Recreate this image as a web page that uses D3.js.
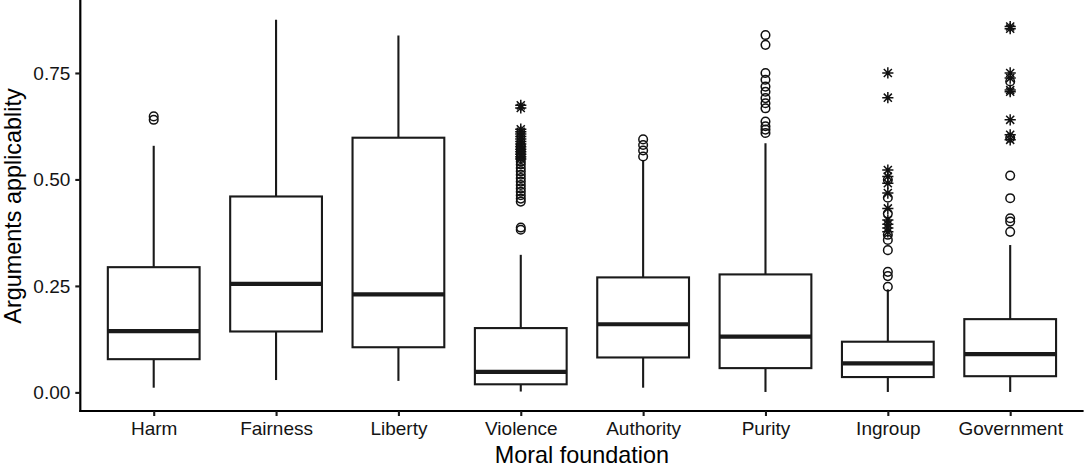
<!DOCTYPE html>
<meta charset="utf-8">
<script src="https://d3js.org/d3.v7.min.js"></script>
<style>
  body { margin: 0; background: #fff; }
  text { font-family: "Liberation Sans", Arial, sans-serif; }
</style>
<div id="chart"></div>
<script>
// data
var categories = ["Harm", "Fairness", "Liberty", "Violence", "Authority", "Purity", "Ingroup", "Government"];
var lowerWhisker = [0.011, 0.029, 0.027, 0.002, 0.011, 0.001, 0.001, 0.001];
var q1 = [0.078, 0.143, 0.106, 0.019, 0.082, 0.057, 0.036, 0.038];
var median = [0.144, 0.255, 0.230, 0.048, 0.160, 0.131, 0.068, 0.090];
var q3 = [0.294, 0.460, 0.598, 0.151, 0.270, 0.277, 0.119, 0.172];
var upperWhisker = [0.579, 0.875, 0.838, 0.323, 0.545, 0.585, 0.242, 0.346];

var circleOutliers = [
  [0.648, 0.640],
  [],
  [],
  [0.580, 0.570, 0.560, 0.550, 0.542, 0.535, 0.527, 0.519, 0.511, 0.503, 0.495, 0.487, 0.479, 0.471, 0.463, 0.455, 0.448, 0.387, 0.382],
  [0.594, 0.581, 0.568, 0.554],
  [0.839, 0.816, 0.750, 0.734, 0.718, 0.706, 0.691, 0.679, 0.667, 0.636, 0.625, 0.617, 0.609],
  [0.499, 0.457, 0.420, 0.370, 0.358, 0.334, 0.283, 0.273, 0.248],
  [0.730, 0.598, 0.509, 0.456, 0.409, 0.401, 0.377]
];
var starOutliers = [
  [],
  [],
  [],
  [0.674, 0.668, 0.618, 0.612, 0.607, 0.601, 0.595, 0.589, 0.583, 0.577, 0.571, 0.565, 0.559, 0.553, 0.548],
  [],
  [],
  [0.750, 0.692, 0.522, 0.507, 0.491, 0.468, 0.432, 0.405, 0.395, 0.386, 0.377],
  [0.859, 0.854, 0.750, 0.738, 0.710, 0.706, 0.640, 0.605, 0.593]
];
var yTicks = [0, 0.25, 0.5, 0.75];

var width = 1085, height = 471;
var plotLeft = 80.3, plotRight = 1083.6, plotTop = 1, plotBottom = 411;
var ink = "#1a1a1a";

var svg = d3.select("#chart").append("svg")
  .attr("width", width)
  .attr("height", height);

var x = d3.scalePoint()
  .domain(categories)
  .range([plotLeft, plotRight])
  .padding(0.6);

var y = d3.scaleLinear()
  .domain([-0.0437, 0.919])
  .range([plotBottom, plotTop]);

var boxW = x.step() * 0.75;

var boxes = categories.map(function(c, i) {
  return { name: c, lo: lowerWhisker[i], q1: q1[i], med: median[i], q3: q3[i], hi: upperWhisker[i] };
});

var g = svg.selectAll("g.box")
  .data(boxes)
  .enter().append("g")
  .attr("class", "box");

// whiskers
g.append("line")
  .attr("x1", d => x(d.name)).attr("x2", d => x(d.name))
  .attr("y1", d => y(d.q3)).attr("y2", d => y(d.hi))
  .attr("stroke", ink).attr("stroke-width", 2.1);
g.append("line")
  .attr("x1", d => x(d.name)).attr("x2", d => x(d.name))
  .attr("y1", d => y(d.q1)).attr("y2", d => y(d.lo))
  .attr("stroke", ink).attr("stroke-width", 2.1);

// boxes
g.append("rect")
  .attr("x", d => x(d.name) - boxW / 2)
  .attr("width", boxW)
  .attr("y", d => y(d.q3))
  .attr("height", d => y(d.q1) - y(d.q3))
  .attr("fill", "#fff")
  .attr("stroke", ink).attr("stroke-width", 2.1);

// medians
g.append("line")
  .attr("x1", d => x(d.name) - boxW / 2).attr("x2", d => x(d.name) + boxW / 2)
  .attr("y1", d => y(d.med)).attr("y2", d => y(d.med))
  .attr("stroke", ink).attr("stroke-width", 4.2);

// outliers
var circ = [], stars = [];
categories.forEach(function(c, i) {
  circleOutliers[i].forEach(v => circ.push({ name: c, v: v }));
  starOutliers[i].forEach(v => stars.push({ name: c, v: v }));
});

svg.selectAll("circle.out")
  .data(circ)
  .enter().append("circle")
  .attr("class", "out")
  .attr("cx", d => x(d.name))
  .attr("cy", d => y(d.v))
  .attr("r", 4.3)
  .attr("fill", "none")
  .attr("stroke", "#111")
  .attr("stroke-width", 1.5);

var s = 5.6;
var starPath = "M0," + (-s) + "V" + s + "M" + (-s) + ",0H" + s +
  "M" + (-s * 0.72) + "," + (-s * 0.72) + "L" + (s * 0.72) + "," + (s * 0.72) +
  "M" + (-s * 0.72) + "," + (s * 0.72) + "L" + (s * 0.72) + "," + (-s * 0.72);

svg.selectAll("path.star")
  .data(stars)
  .enter().append("path")
  .attr("class", "star")
  .attr("transform", d => "translate(" + x(d.name) + "," + y(d.v) + ")")
  .attr("d", starPath)
  .attr("fill", "none")
  .attr("stroke", "#111")
  .attr("stroke-width", 1.5);

// axes
var xAxis = svg.append("g")
  .attr("transform", "translate(0," + plotBottom + ")")
  .call(d3.axisBottom(x).tickSize(5).tickPadding(6).tickSizeOuter(0));
var yAxis = svg.append("g")
  .attr("transform", "translate(" + plotLeft + ",0)")
  .call(d3.axisLeft(y).tickValues(yTicks).tickFormat(d3.format(".2f")).tickSize(5).tickPadding(5).tickSizeOuter(0));

[xAxis, yAxis].forEach(function(a) {
  a.select(".domain").attr("stroke", "#000").attr("stroke-width", 2.2);
  a.selectAll(".tick line").attr("stroke", ink).attr("stroke-width", 2.1);
  a.selectAll(".tick text")
    .attr("fill", "#141414")
    .style("font-size", "19px")
    .style("font-family", "'Liberation Sans', Arial, sans-serif");
});
xAxis.select(".domain").attr("d", "M" + (plotLeft - 1) + ",0H" + plotRight);
yAxis.select(".domain").attr("d", "M0," + (plotBottom + 1) + "V0");

// titles
svg.append("text")
  .attr("x", (plotLeft + plotRight) / 2)
  .attr("y", 463)
  .attr("text-anchor", "middle")
  .attr("fill", "#000")
  .style("font-size", "23.4px")
  .text("Moral foundation");

svg.append("text")
  .attr("transform", "translate(21," + (plotTop + plotBottom) / 2 + ") rotate(-90)")
  .attr("text-anchor", "middle")
  .attr("fill", "#000")
  .style("font-size", "23.4px")
  .text("Arguments applicablity");
</script>
